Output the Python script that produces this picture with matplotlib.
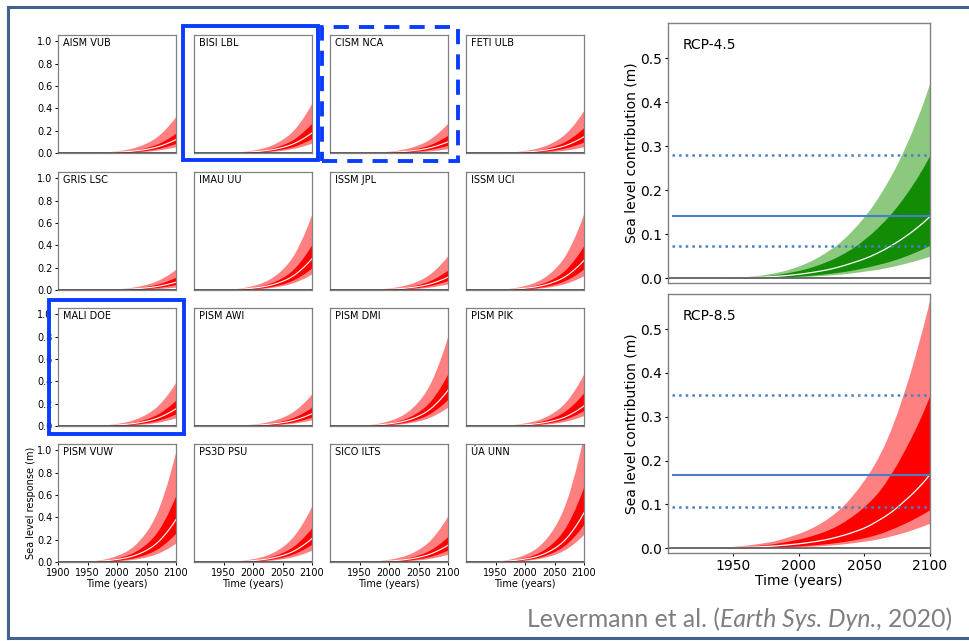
import matplotlib
matplotlib.use("Agg")
import matplotlib.pyplot as plt
from matplotlib.patches import Rectangle
from matplotlib.lines import Line2D

# ---------------- data ----------------
years = [1900, 1920, 1940, 1950, 1960, 1970, 1980, 1990,
         2000, 2005, 2010, 2015, 2020, 2025, 2030, 2035, 2040, 2045, 2050,
         2055, 2060, 2065, 2070, 2075, 2080, 2085, 2090, 2095, 2100]

# growth profile of the small-panel bands (fraction of the 2100 value)
profile = [0, 0.0005, 0.0035, 0.007, 0.012, 0.019, 0.028, 0.042,
           0.060, 0.070, 0.082, 0.096, 0.112, 0.131, 0.153, 0.178, 0.207, 0.239, 0.275,
           0.315, 0.36, 0.413, 0.474, 0.543, 0.623, 0.705, 0.798, 0.893, 1.0]

models = ["AISM VUB", "BISI LBL", "CISM NCA", "FETI ULB",
          "GRIS LSC", "IMAU UU", "ISSM JPL", "ISSM UCI",
          "MALI DOE", "PISM AWI", "PISM DMI", "PISM PIK",
          "PISM VUW", "PS3D PSU", "SICO ILTS", "ÚA UNN"]
light_hi_2100 = [0.33, 0.45, 0.27, 0.385, 0.187, 0.685, 0.31, 0.69,
                 0.395, 0.29, 0.81, 0.47, 1.0, 0.506, 0.417, 1.15]
dark_hi_2100 = [0.18, 0.27, 0.16, 0.23, 0.116, 0.41, 0.18, 0.40,
                0.234, 0.17, 0.47, 0.30, 0.60, 0.31, 0.23, 0.68]
median_2100 = [0.12, 0.18, 0.10, 0.146, 0.07, 0.28, 0.115, 0.265,
               0.154, 0.11, 0.32, 0.18, 0.38, 0.21, 0.15, 0.44]
dark_lo_2100 = [0.087, 0.13, 0.07, 0.10, 0.05, 0.20, 0.086, 0.19,
                0.11, 0.08, 0.24, 0.14, 0.26, 0.16, 0.107, 0.34]
light_lo_2100 = [0.057, 0.09, 0.04, 0.057, 0.027, 0.145, 0.056, 0.13,
                 0.074, 0.056, 0.17, 0.095, 0.17, 0.107, 0.07, 0.25]

# RCP-4.5 (green)
g_light_hi = [0, 0.0000, 0.0007, 0.0017, 0.0036, 0.0067, 0.0114, 0.018,
              0.028, 0.034, 0.041, 0.049, 0.058, 0.068, 0.079, 0.092, 0.107, 0.123, 0.141,
              0.160, 0.182, 0.206, 0.232, 0.260, 0.292, 0.325, 0.362, 0.401, 0.445]
g_dark_hi = [0, 0, 0.0004, 0.0011, 0.0023, 0.0042, 0.0072, 0.0115,
             0.0176, 0.0214, 0.026, 0.0308, 0.0365, 0.0427, 0.050, 0.058, 0.067, 0.077, 0.089,
             0.101, 0.115, 0.130, 0.146, 0.164, 0.184, 0.205, 0.228, 0.253, 0.28]
g_median = [0, 0, 0.0002, 0.0005, 0.0011, 0.0021, 0.0036, 0.0057,
            0.0088, 0.0107, 0.013, 0.0153, 0.018, 0.0212, 0.025, 0.0292, 0.034, 0.0387, 0.044,
            0.0501, 0.057, 0.0645, 0.073, 0.082, 0.092, 0.1024, 0.114, 0.1263, 0.14]
g_dark_lo = [0, 0, 0.0001, 0.0003, 0.0006, 0.0011, 0.0019, 0.003,
             0.0047, 0.0057, 0.0069, 0.0082, 0.0098, 0.0115, 0.0134, 0.0155, 0.018, 0.0208, 0.024,
             0.0273, 0.031, 0.0348, 0.039, 0.0437, 0.049, 0.0547, 0.061, 0.0676, 0.075]
g_light_lo = [0, 0, 0.0001, 0.0002, 0.0004, 0.0008, 0.0013, 0.002,
              0.0031, 0.0038, 0.0046, 0.0055, 0.0065, 0.0076, 0.0089, 0.0103, 0.012, 0.0139, 0.016,
              0.0179, 0.020, 0.0228, 0.026, 0.0293, 0.033, 0.0368, 0.041, 0.0453, 0.05]

# RCP-8.5 (red)
r_light_hi = [0, 0.0003, 0.002, 0.004, 0.007, 0.011, 0.016, 0.024,
              0.034, 0.040, 0.047, 0.055, 0.064, 0.075, 0.087, 0.101, 0.118, 0.136, 0.157,
              0.179, 0.205, 0.235, 0.27, 0.31, 0.355, 0.402, 0.455, 0.509, 0.57]
r_dark_hi = [0, 0.0002, 0.0012, 0.0025, 0.0043, 0.0068, 0.0098, 0.015,
             0.021, 0.0247, 0.029, 0.0336, 0.039, 0.0455, 0.053, 0.0618, 0.072, 0.0831, 0.096,
             0.110, 0.126, 0.146, 0.169, 0.193, 0.221, 0.249, 0.28, 0.313, 0.35]
r_median = [0, 0.0001, 0.0006, 0.0012, 0.0021, 0.0032, 0.0047, 0.0071,
            0.010, 0.0118, 0.014, 0.0163, 0.019, 0.0222, 0.026, 0.0302, 0.035, 0.0401, 0.046,
            0.0534, 0.062, 0.0709, 0.081, 0.0927, 0.106, 0.1192, 0.134, 0.150, 0.168]
r_dark_lo = [0, 0, 0.0003, 0.0006, 0.0011, 0.0017, 0.0025, 0.0037,
             0.0053, 0.0062, 0.0073, 0.0085, 0.0099, 0.0116, 0.0135, 0.0156, 0.018, 0.0208, 0.024,
             0.0277, 0.032, 0.0371, 0.043, 0.0491, 0.056, 0.0631, 0.071, 0.079, 0.088]
r_light_lo = [0, 0, 0.0002, 0.0004, 0.0007, 0.0011, 0.0016, 0.0024,
              0.0034, 0.004, 0.0047, 0.0055, 0.0064, 0.0075, 0.0087, 0.0102, 0.012, 0.0139, 0.016,
              0.0183, 0.021, 0.0242, 0.028, 0.0317, 0.036, 0.0407, 0.046, 0.0512, 0.057]

rcp45_levels = [0.074, 0.141, 0.28]
rcp85_levels = [0.094, 0.168, 0.35]
level_styles = [":", "-", ":"]
level_start = 1903

small_xticks_first = [1900, 1950, 2000, 2050, 2100]
small_xticks = [1950, 2000, 2050, 2100]
small_yticks = [0.0, 0.2, 0.4, 0.6, 0.8, 1.0]
big_xticks = [1950, 2000, 2050, 2100]
big_yticks = [0.0, 0.1, 0.2, 0.3, 0.4, 0.5]

# ---------------- figure ----------------
W, H = 970, 641
fig = plt.figure(figsize=(W / 100, H / 100), dpi=100)


def rect(l, t, w, h):
    return [l / W, 1 - (t + h) / H, w / W, h / H]


SPINE = "#808080"
RED_L, RED_D = "#ff8080", "#ff0000"
GRN_L, GRN_D = "#8cc87e", "#128c04"
LVL = "#4a7fc8"

tops = [35, 172, 308, 444]
for i, name in enumerate(models):
    r, c = divmod(i, 4)
    ax = fig.add_axes(rect(58 + 136 * c, tops[r], 118, 118))
    lhi = [p * light_hi_2100[i] for p in profile]
    dhi = [p * dark_hi_2100[i] for p in profile]
    med = [p * median_2100[i] for p in profile]
    dlo = [p * dark_lo_2100[i] for p in profile]
    llo = [p * light_lo_2100[i] for p in profile]
    ax.fill_between(years, llo, lhi, color=RED_L, lw=0)
    ax.fill_between(years, dlo, dhi, color=RED_D, lw=0)
    ax.plot(years, med, color="white", lw=0.8)
    ax.axhline(0, color="#333333", lw=1.8, zorder=3)
    ax.set_xlim(1900, 2100)
    ax.set_ylim(0, 1.055)
    ax.text(0.045, 0.93, name, transform=ax.transAxes, fontsize=7,
            ha="left", va="center")
    for s in ax.spines.values():
        s.set_color(SPINE)
        s.set_linewidth(0.9)
    ax.tick_params(length=2.5, width=0.7, pad=1.5, labelsize=7)
    if c == 0:
        ax.set_yticks(small_yticks)
        ax.set_yticklabels([f"{v:.1f}" for v in small_yticks])
    else:
        ax.set_yticks([])
    if r == 3:
        ax.set_xticks(small_xticks_first if c == 0 else small_xticks)
        ax.set_xlabel("Time (years)", fontsize=7, labelpad=1)
    else:
        ax.set_xticks([])
    if r == 3 and c == 0:
        ax.set_ylabel("Sea level response (m)", fontsize=7, labelpad=1)

big = [
    (23, 260, "RCP-4.5", GRN_L, GRN_D,
     (g_light_lo, g_light_hi, g_dark_lo, g_dark_hi, g_median), rcp45_levels),
    (294, 259, "RCP-8.5", RED_L, RED_D,
     (r_light_lo, r_light_hi, r_dark_lo, r_dark_hi, r_median), rcp85_levels),
]
for k, (top, hgt, title, cl, cd, series, levels) in enumerate(big):
    ax = fig.add_axes(rect(668, top, 262, hgt))
    llo, lhi, dlo, dhi, med = series
    ax.fill_between(years, llo, lhi, color=cl, lw=0)
    ax.fill_between(years, dlo, dhi, color=cd, lw=0)
    ax.plot(years, med, color="white", lw=0.9)
    ax.axhline(0, color="#606060", lw=1.3)
    for lv, ls in zip(levels, level_styles):
        ax.hlines(lv, level_start, 2100, colors=LVL, linestyles=ls,
                  lw=1.5 if ls == "-" else 1.8, zorder=4)
    ax.set_xlim(1900, 2100)
    ax.set_ylim(-0.011, 0.58)
    ax.set_yticks(big_yticks)
    ax.set_yticklabels([f"{v:.1f}" for v in big_yticks])
    ax.text(0.057, 0.915, title, transform=ax.transAxes, fontsize=10,
            ha="left", va="center")
    for s in ax.spines.values():
        s.set_color(SPINE)
        s.set_linewidth(1.0)
    ax.tick_params(length=2.5, width=0.8, pad=1.5, labelsize=10)
    ax.set_ylabel("Sea level contribution (m)", fontsize=10, labelpad=1.5)
    if k == 1:
        ax.set_xticks(big_xticks)
        ax.set_xlabel("Time (years)", fontsize=10, labelpad=1)
    else:
        ax.set_xticks([])

# slide frame (top, left, bottom; open on the right)
FRAME = "#44628e"
x_l, y_t, y_b = 8 / W, 1 - 7 / H, 1 - 638 / H
for xs, ys in [([x_l, 1.02], [y_t, y_t]), ([x_l, x_l], [y_t, y_b]), ([x_l, 1.02], [y_b, y_b])]:
    fig.add_artist(Line2D(xs, ys, transform=fig.transFigure, color=FRAME,
                          lw=2.2, solid_capstyle="projecting"))

# highlight boxes
BOX = "#0a3cff"
def box(x0, y0, x1, y1, ls="-"):
    fig.add_artist(Rectangle((x0 / W, 1 - y1 / H), (x1 - x0) / W, (y1 - y0) / H,
                             transform=fig.transFigure, fill=False, ec=BOX,
                             lw=2.8, ls=ls, zorder=10, joinstyle="miter"))

box(183.5, 26.5, 318, 159.5)
box(322.5, 26.5, 458.5, 160.5, ls=(0, (3.9, 2.6)))
box(48.5, 300, 183.5, 433.5)

# citation
renderer = fig.canvas.get_renderer()
parts = [("Levermann et al. (", "normal"), ("Earth Sys. Dyn.", "italic"), (", 2020)", "normal")]
fs = 17
texts = [fig.text(0, 1 - 627 / H, s, fontsize=fs, style=st, family="Lato",
                  color="#7f7f7f", ha="right", va="baseline") for s, st in parts]
total = sum(t.get_window_extent(renderer).width for t in texts)
fs = fs * 425 / total
for t in texts:
    t.set_fontsize(fs)
x = 952
for t in reversed(texts):
    t.set_x(x / W)
    x -= t.get_window_extent(renderer).width

fig.savefig("out.png", dpi=100)
